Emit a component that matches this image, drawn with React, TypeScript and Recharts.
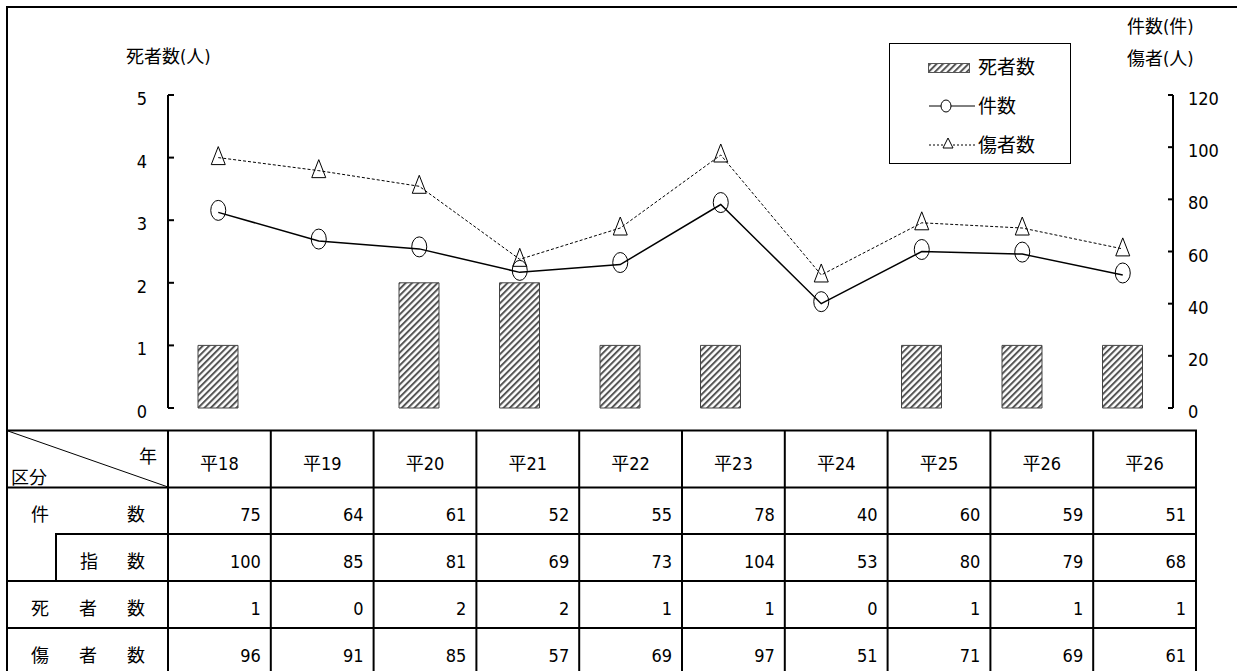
import React from "react";
import { ComposedChart, Bar, Line, XAxis, YAxis } from "recharts";

const years = ["平18", "平19", "平20", "平21", "平22", "平23", "平24", "平25", "平26", "平26"];
const cases = [75, 64, 61, 52, 55, 78, 40, 60, 59, 51];
const caseIndex = [100, 85, 81, 69, 73, 104, 53, 80, 79, 68];
const deaths = [1, 0, 2, 2, 1, 1, 0, 1, 1, 1];
const injured = [96, 91, 85, 57, 69, 97, 51, 71, 69, 61];
const leftTicks = [0, 1, 2, 3, 4, 5];
const rightTicks = [0, 20, 40, 60, 80, 100, 120];

const data = years.map((year, i) => ({
  year,
  deaths: deaths[i],
  cases: cases[i],
  injured: injured[i],
}));

const FONT = "'DejaVu Sans', 'Noto Sans CJK JP', sans-serif";
const FS = 18;
const textStyle = { fontStretch: "condensed" as const };

// table geometry
const colLeft = 168;
const colW = 102.8;
const rowTops = [430, 487, 534, 581, 628];

const LeftTick = (props: any) => {
  const { x, y, payload } = props;
  return (
    <g>
      <line x1={x} x2={x + 6} y1={y} y2={y} stroke="#000" strokeWidth={2} />
      <text x={x - 21} y={y + 10} textAnchor="end" fontSize={FS} fill="#000" fontFamily={FONT} style={textStyle}>
        {payload.value}
      </text>
    </g>
  );
};

const RightTick = (props: any) => {
  const { x, y, payload } = props;
  return (
    <g>
      <line x1={x - 5} x2={x} y1={y} y2={y} stroke="#000" strokeWidth={2} />
      <text x={x + 15} y={y + 10} textAnchor="start" fontSize={FS} fill="#000" fontFamily={FONT} style={textStyle}>
        {payload.value}
      </text>
    </g>
  );
};

const CircleDot = (props: any) => {
  const { cx, cy, index } = props;
  return <ellipse key={"c" + index} cx={cx} cy={cy - 2} rx={7.5} ry={10} fill="none" stroke="#000" strokeWidth={1} />;
};

const TriDot = (props: any) => {
  const { cx, cy, index } = props;
  return (
    <polygon
      key={"t" + index}
      points={`${cx},${cy - 11} ${cx - 7},${cy + 7} ${cx + 7},${cy + 7}`}
      fill="none"
      stroke="#000"
      strokeWidth={1}
    />
  );
};

const Hatch = ({ id }: { id: string }) => (
  <pattern id={id} patternUnits="userSpaceOnUse" width={4.5} height={4.5} patternTransform="rotate(45)">
    <rect width={4.5} height={4.5} fill="#fff" />
    <rect width={2} height={4.5} fill="#555" />
  </pattern>
);

const rowLabel = (chars: { t: string; x: number }[], top: number, key: string) =>
  chars.map((c, i) => (
    <text key={key + i} x={c.x} y={top + 34} fontSize={FS}>
      {c.t}
    </text>
  ));

const valueRows = [cases, caseIndex, deaths, injured];

export default function App() {
  return (
    <div style={{ position: "absolute", left: 0, top: 0, width: 1237, height: 671, background: "#fff", fontFamily: FONT }}>
      <div style={{ position: "absolute", left: 0, top: 0 }}>
        <ComposedChart width={1237} height={440} data={data} margin={{ top: 95, right: 24, bottom: 32, left: 128 }}>
          <defs>
            <Hatch id="hatchBar" />
          </defs>
          <XAxis dataKey="year" hide />
          <YAxis
            yAxisId="left"
            orientation="left"
            width={40}
            domain={[0, 5]}
            ticks={leftTicks}
            interval={0}
            tickLine={false}
            tickSize={0}
            tickMargin={0}
            axisLine={{ stroke: "#000", strokeWidth: 2 }}
            tick={<LeftTick />}
          />
          <YAxis
            yAxisId="right"
            orientation="right"
            width={40}
            domain={[0, 120]}
            ticks={rightTicks}
            interval={0}
            tickLine={false}
            tickSize={0}
            tickMargin={0}
            axisLine={{ stroke: "#000", strokeWidth: 2 }}
            tick={<RightTick />}
          />
          <Bar yAxisId="left" dataKey="deaths" barSize={40} fill="url(#hatchBar)" stroke="#444" strokeWidth={1} isAnimationActive={false} />
          <Line yAxisId="right" dataKey="cases" type="linear" stroke="#000" strokeWidth={1.5} dot={<CircleDot />} activeDot={false} isAnimationActive={false} />
          <Line yAxisId="right" dataKey="injured" type="linear" stroke="#000" strokeWidth={1} strokeDasharray="3 2" dot={<TriDot />} activeDot={false} isAnimationActive={false} />
        </ComposedChart>
      </div>

      <svg width={1237} height={671} style={{ position: "absolute", left: 0, top: 0, pointerEvents: "none", fontStretch: "condensed" }} fontFamily={FONT} fill="#000">
        <defs>
          <Hatch id="hatchLegend" />
        </defs>
        {/* outer frame */}
        <line x1={6} x2={1237} y1={7} y2={7} stroke="#000" strokeWidth={2} />
        <line x1={7} x2={7} y1={6} y2={671} stroke="#000" strokeWidth={2} />

        {/* axis titles */}
        <text x={126} y={63} fontSize={FS}>死者数(人)</text>
        <text x={1127} y={33} fontSize={FS}>件数(件)</text>
        <text x={1127} y={65} fontSize={FS}>傷者(人)</text>

        {/* legend */}
        <rect x={889.5} y={43.5} width={181} height={120} fill="#fff" stroke="#000" strokeWidth={1} />
        <rect x={928.5} y={63.5} width={41} height={9} fill="url(#hatchLegend)" stroke="#555" strokeWidth={1} />
        <text x={978} y={74} fontSize={19}>死者数</text>
        <line x1={929} x2={975} y1={106} y2={106} stroke="#000" strokeWidth={1} />
        <ellipse cx={946} cy={106} rx={5} ry={6} fill="#fff" stroke="#000" strokeWidth={1} />
        <text x={978} y={113} fontSize={19}>件数</text>
        <line x1={929} x2={975} y1={145} y2={145} stroke="#000" strokeWidth={1} strokeDasharray="2 2" />
        <polygon points="948,138 943,148 953,148" fill="#fff" stroke="#000" strokeWidth={1} />
        <text x={978} y={152} fontSize={19}>傷者数</text>

        {/* table lines */}
        <line x1={7} x2={1197} y1={430.5} y2={430.5} stroke="#000" strokeWidth={2} />
        <line x1={7} x2={1197} y1={487.5} y2={487.5} stroke="#000" strokeWidth={2} />
        <line x1={55} x2={1197} y1={534} y2={534} stroke="#000" strokeWidth={2} />
        <line x1={7} x2={1197} y1={581} y2={581} stroke="#000" strokeWidth={2} />
        <line x1={7} x2={1197} y1={628} y2={628} stroke="#000" strokeWidth={2} />
        <line x1={56} x2={56} y1={534} y2={581} stroke="#000" strokeWidth={2} />
        <line x1={8} x2={168} y1={431} y2={487} stroke="#000" strokeWidth={1} />
        {Array.from({ length: years.length + 1 }, (_, i) => (
          <line
            key={"v" + i}
            x1={colLeft + i * colW}
            x2={colLeft + i * colW}
            y1={430}
            y2={671}
            stroke="#000"
            strokeWidth={2}
          />
        ))}

        {/* header */}
        <text x={139} y={463} fontSize={FS}>年</text>
        <text x={11} y={484} fontSize={FS}>区分</text>
        {years.map((y, i) => (
          <text key={"h" + i} x={colLeft + (i + 0.5) * colW} y={470} fontSize={FS} textAnchor="middle">
            {y}
          </text>
        ))}

        {/* row labels */}
        {rowLabel([{ t: "件", x: 31 }, { t: "数", x: 127 }], rowTops[1], "r1")}
        {rowLabel([{ t: "指", x: 80 }, { t: "数", x: 127 }], rowTops[2], "r2")}
        {rowLabel([{ t: "死", x: 31 }, { t: "者", x: 79 }, { t: "数", x: 127 }], rowTops[3], "r3")}
        {rowLabel([{ t: "傷", x: 31 }, { t: "者", x: 79 }, { t: "数", x: 127 }], rowTops[4], "r4")}

        {/* values */}
        {valueRows.map((row, r) =>
          row.map((v, i) => (
            <text key={`d${r}-${i}`} x={colLeft + (i + 1) * colW - 10} y={rowTops[r + 1] + 34} fontSize={FS} textAnchor="end">
              {v}
            </text>
          ))
        )}
      </svg>
    </div>
  );
}
